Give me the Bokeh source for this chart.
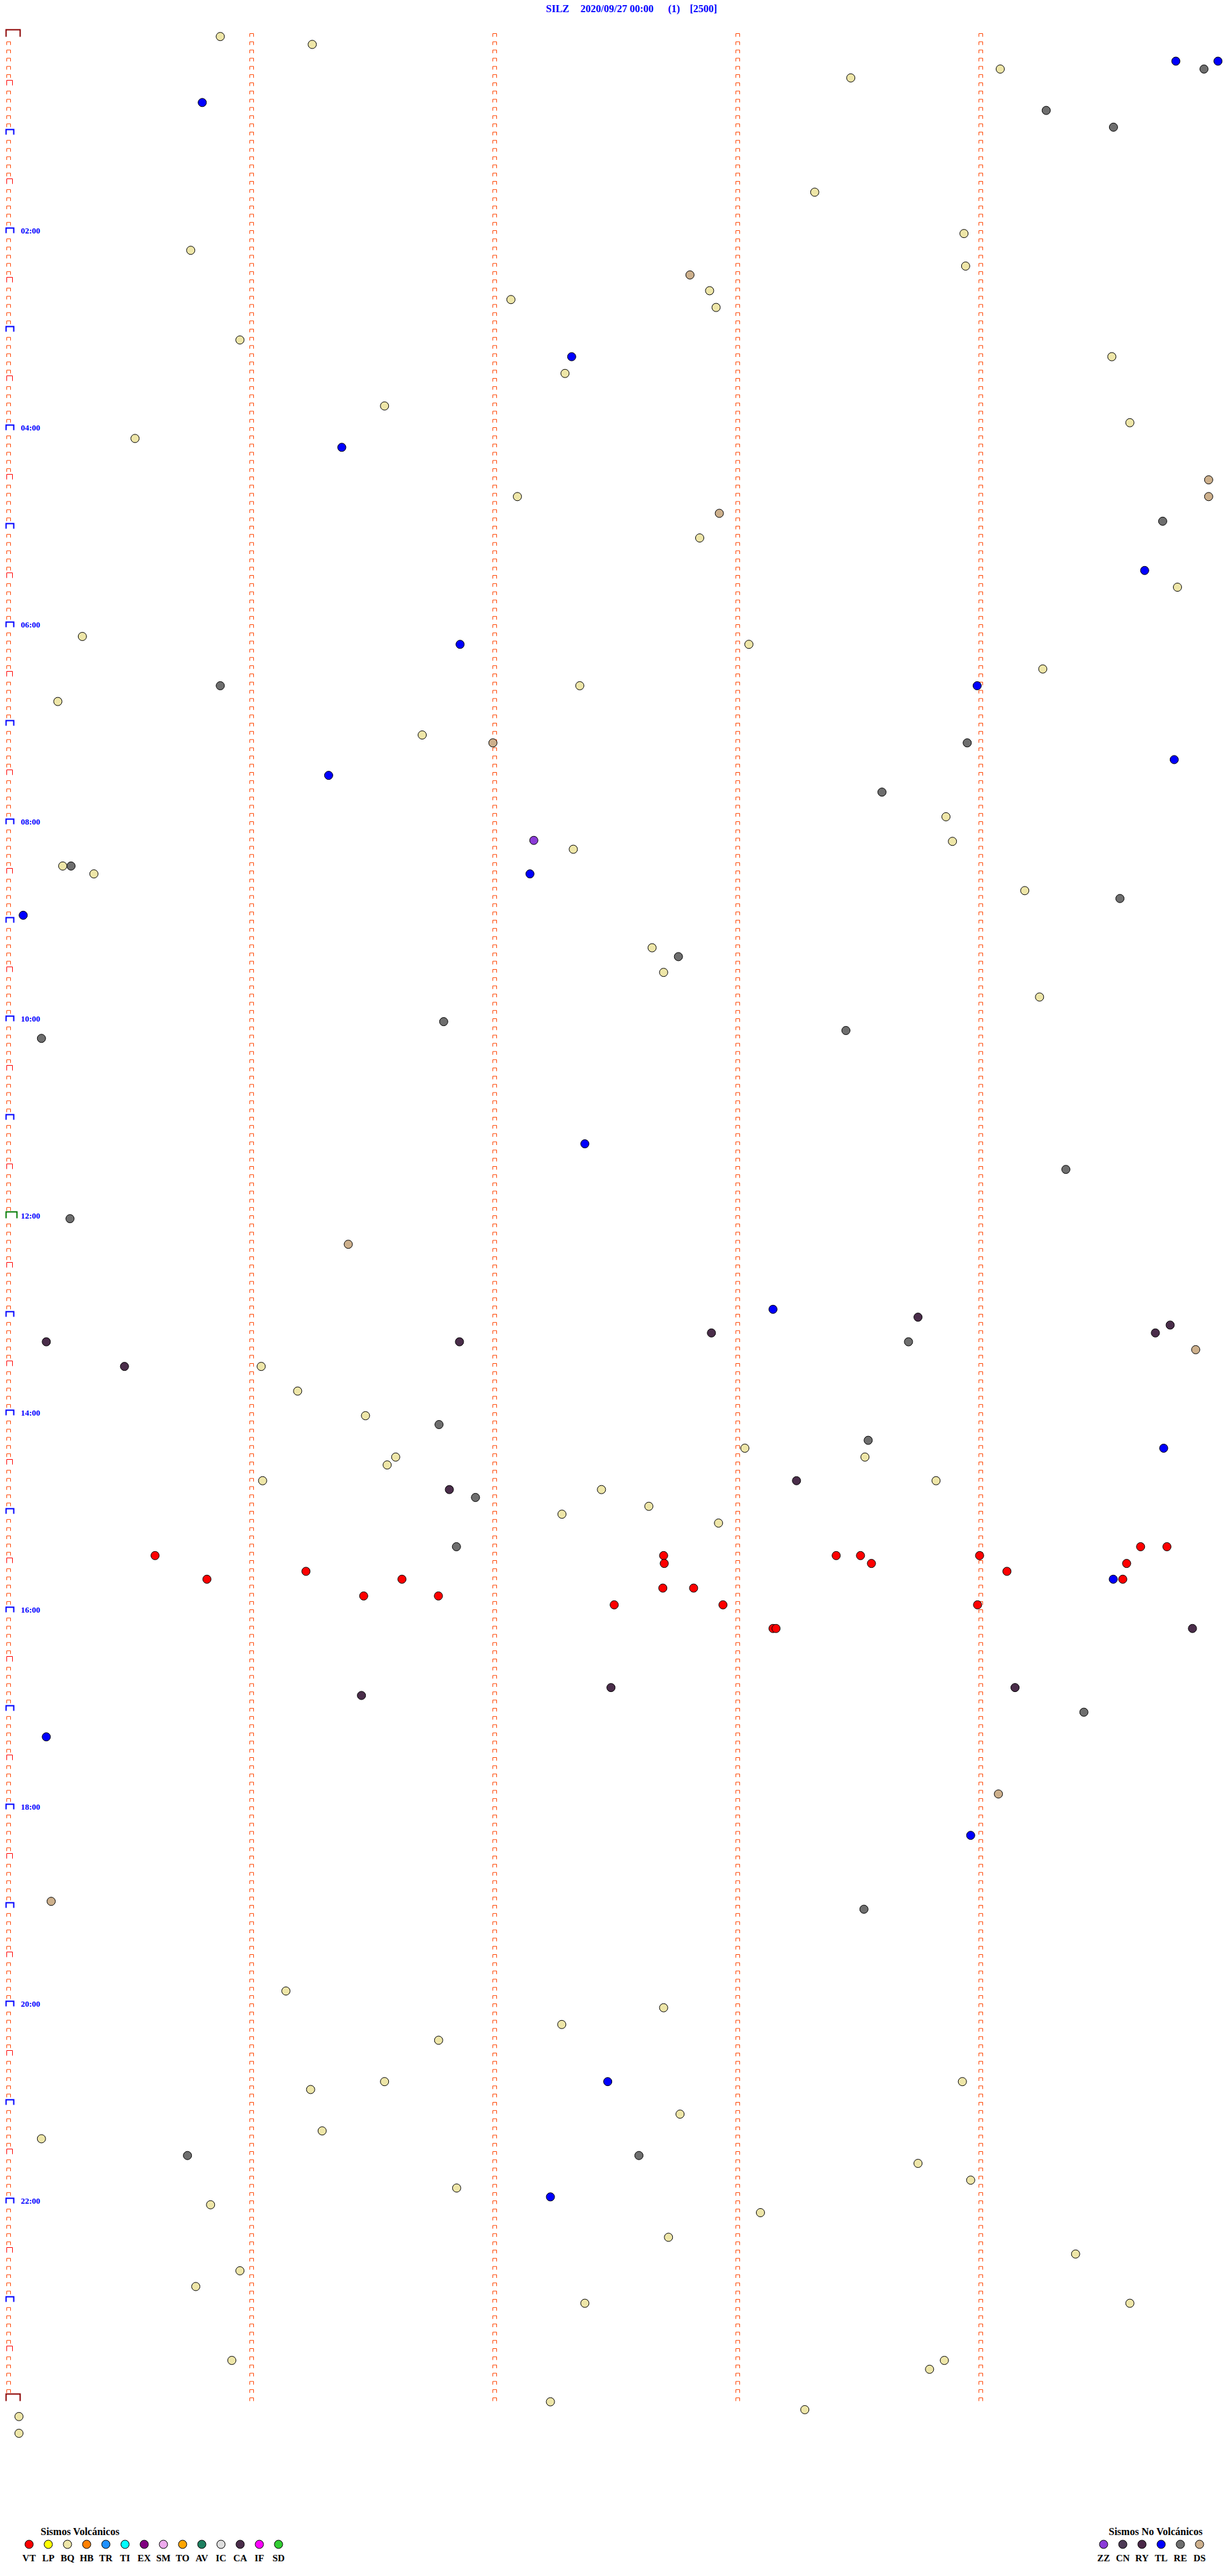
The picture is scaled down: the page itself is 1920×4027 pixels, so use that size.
from bokeh.plotting import figure
from bokeh.models import Range1d, ColumnDataSource
from bokeh.embed import file_html
from bokeh.resources import INLINE
from bokeh.core.properties import value

# ---------------- data ----------------
# minute within the hour (x) and hour of day (y) of each event, with its type
minute = [10.45, 14.99, 41.58, 48.96, 57.63, 59.71, 59.02, 9.56, 51.23, 54.55,
          39.80, 47.17, 8.99, 47.25, 33.64, 34.61, 24.80, 34.93, 11.42, 27.80,
          54.47, 27.47, 18.56, 55.36, 6.24, 16.45, 59.25, 59.25, 25.12, 35.09,
          56.98, 34.12, 56.09, 57.71, 3.64, 22.29, 36.55, 51.06, 10.45, 28.20,
          47.82, 2.43, 20.42, 23.91, 47.33, 57.55, 15.80, 43.12, 46.28, 25.93,
          46.60, 27.88, 2.67, 3.08, 4.21, 25.74, 50.17, 54.87, 0.72, 31.77,
          33.07, 32.34, 50.90, 21.48, 1.62, 41.34, 28.45, 52.20, 3.03, 16.77,
          37.74, 44.90, 1.86, 22.26, 34.70, 44.43, 57.35, 56.62, 58.61, 5.72,
          12.47, 14.27, 17.62, 21.25, 42.44, 36.35, 57.03, 42.28, 19.11, 18.69,
          12.54, 45.79, 38.90, 21.76, 23.05, 29.27, 31.61, 27.32, 35.05, 22.11,
          7.23, 32.34, 32.37, 40.86, 42.06, 42.60, 47.94, 55.89, 57.19, 55.20,
          14.68, 49.29, 9.79, 19.42, 32.30, 33.82, 54.54, 55.01, 17.53, 21.22,
          29.90, 35.27, 47.84, 37.74, 37.89, 58.45, 17.42, 29.74, 49.69, 53.09,
          1.86, 48.87, 47.50, 2.10, 42.23, 13.69, 32.34, 27.31, 21.23, 29.58,
          47.09, 18.56, 14.91, 33.15, 15.48, 1.62, 8.83, 31.12, 44.90, 47.50,
          22.12, 26.75, 9.97, 37.12, 32.58, 52.68, 11.42, 9.24, 55.36, 28.45,
          11.02, 46.20, 45.47, 26.75, 39.31, 0.51, 0.51]
hour = [0.03, 0.11, 0.45, 0.36, 0.28, 0.28, 0.36, 0.70, 0.78, 0.95,
        1.61, 2.03, 2.20, 2.36, 2.45, 2.61, 2.70, 2.78, 3.11, 3.28,
        3.28, 3.45, 3.78, 3.95, 4.11, 4.20, 4.53, 4.70, 4.70, 4.87,
        4.95, 5.12, 5.45, 5.62, 6.12, 6.20, 6.20, 6.45, 6.62, 6.62,
        6.62, 6.78, 7.12, 7.20, 7.20, 7.37, 7.53, 7.70, 7.95, 8.19,
        8.20, 8.28, 8.45, 8.45, 8.53, 8.53, 8.70, 8.78, 8.95, 9.28,
        9.37, 9.53, 9.78, 10.03, 10.20, 10.12, 11.27, 11.53, 12.03, 12.29,
        12.95, 13.03, 13.28, 13.28, 13.19, 13.28, 13.11, 13.19, 13.36, 13.53,
        13.53, 13.78, 14.03, 14.12, 14.28, 14.36, 14.36, 14.45, 14.45, 14.53,
        14.69, 14.69, 14.69, 14.78, 14.86, 14.78, 14.95, 15.03, 15.12, 15.36,
        15.45, 15.45, 15.53, 15.45, 15.45, 15.53, 15.45, 15.36, 15.36, 15.53,
        15.61, 15.61, 15.69, 15.69, 15.78, 15.78, 15.69, 15.69, 15.86, 15.86,
        15.95, 15.95, 15.95, 16.19, 16.19, 16.19, 16.87, 16.79, 16.79, 17.04,
        17.29, 17.87, 18.29, 18.96, 19.04, 19.87, 20.04, 20.21, 20.37, 20.79,
        20.79, 20.79, 20.87, 21.12, 21.29, 21.37, 21.54, 21.54, 21.62, 21.79,
        21.87, 21.96, 22.04, 22.12, 22.37, 22.54, 22.71, 22.87, 23.04, 23.04,
        23.62, 23.62, 23.71, 24.04, 24.12, 24.19, 24.36]
etype = ["BQ", "BQ", "BQ", "BQ", "TL", "TL", "RE", "TL", "RE", "RE",
         "BQ", "BQ", "BQ", "BQ", "DS", "BQ", "BQ", "BQ", "BQ", "TL",
         "BQ", "BQ", "BQ", "BQ", "BQ", "TL", "DS", "DS", "BQ", "DS",
         "RE", "BQ", "TL", "BQ", "BQ", "TL", "BQ", "BQ", "RE", "BQ",
         "TL", "BQ", "BQ", "DS", "RE", "TL", "TL", "RE", "BQ", "ZZ",
         "BQ", "BQ", "BQ", "RE", "BQ", "TL", "BQ", "RE", "TL", "BQ",
         "RE", "BQ", "BQ", "RE", "RE", "RE", "TL", "RE", "RE", "DS",
         "TL", "CA", "CA", "CA", "CA", "RE", "CA", "CA", "DS", "CA",
         "BQ", "BQ", "BQ", "RE", "RE", "BQ", "TL", "BQ", "BQ", "BQ",
         "BQ", "BQ", "CA", "CA", "RE", "BQ", "BQ", "BQ", "BQ", "RE",
         "VT", "VT", "VT", "VT", "VT", "VT", "VT", "VT", "VT", "VT",
         "VT", "VT", "VT", "VT", "VT", "VT", "TL", "VT", "VT", "VT",
         "VT", "VT", "VT", "VT", "VT", "CA", "CA", "CA", "CA", "RE",
         "TL", "DS", "TL", "DS", "RE", "BQ", "BQ", "BQ", "BQ", "TL",
         "BQ", "BQ", "BQ", "BQ", "BQ", "BQ", "RE", "RE", "BQ", "BQ",
         "BQ", "TL", "BQ", "BQ", "BQ", "BQ", "BQ", "BQ", "BQ", "BQ",
         "BQ", "BQ", "BQ", "BQ", "BQ", "BQ", "BQ"]

volc_codes = ["VT", "LP", "BQ", "HB", "TR", "TI", "EX", "SM", "TO", "AV", "IC", "CA", "IF", "SD"]
volc_colors = ["#FF0000", "#FFFF00", "#EEE6A8", "#FF8000", "#1E90FF", "#00FFFF", "#800080",
               "#EEAAEE", "#FFA500", "#1E8060", "#DDDDDD", "#4A2D4A", "#FF00FF", "#32CD32"]
novolc_codes = ["ZZ", "CN", "RY", "TL", "RE", "DS"]
novolc_colors = ["#8B3BD8", "#4D3A55", "#4A2848", "#0000FF", "#6E6E6E", "#CDB08C"]

title_parts = ["SILZ", "2020/09/27 00:00", "(1)", "[2500]"]
hour_labels = ["02:00", "04:00", "06:00", "08:00", "10:00", "12:00",
               "14:00", "16:00", "18:00", "20:00", "22:00"]
hour_label_values = [2, 4, 6, 8, 10, 12, 14, 16, 18, 20, 22]
column_minutes = [0, 12, 24, 36, 48]

# ---------------- layout ----------------
W, H = 1912, 4019
PX_PER_MIN = 380.0 / 12.0
PX_PER_HOUR = 154.0
X0_PX = 13.0   # frame x of minute 0
Y0_PX = 52.0   # frame y of hour 0

x_start = -X0_PX / PX_PER_MIN
x_end = x_start + W / PX_PER_MIN
y_top = -Y0_PX / PX_PER_HOUR
y_bot = y_top + H / PX_PER_HOUR


def dx(px):
    return px / PX_PER_MIN


def dy(px):
    return px / PX_PER_HOUR


def fx(X):  # page pixel -> data x
    return x_start + X / PX_PER_MIN


def fy(Y):  # page pixel -> data y
    return y_top + Y / PX_PER_HOUR


p = figure(width=W, height=H, x_range=Range1d(x_start, x_end),
           y_range=Range1d(y_bot, y_top), output_backend="svg",
           toolbar_location=None, min_border=0,
           x_axis_location=None, y_axis_location=None)
p.outline_line_color = None
p.grid.visible = False
p.background_fill_color = "white"
p.border_fill_color = "white"

# ---------------- time marks (⊓ brackets) ----------------
styles = {
    "small": dict(color="#FF4500", width=1, l=-3, r=3, t=0, b=5),
    "half": dict(color="#FF0000", width=1, l=-3, r=6, t=-4, b=4),
    "hour": dict(color="#0000FF", width=2, l=-4, r=8, t=-4, b=4),
    "noon": dict(color="#007A00", width=2, l=-4, r=13, t=-6, b=4),
    "day": dict(color="#8B0000", width=2, l=-4, r=18, t=-6, b=5),
}
marks = {k: ([], []) for k in styles}
for ci, cm in enumerate(column_minutes):
    for k in range(0, 24 * 12 + 1):
        t = k / 12.0
        kind = "small"
        if ci == 0:
            if k == 0 or k == 288:
                kind = "day"
            elif k == 144:
                kind = "noon"
            elif k % 12 == 0:
                kind = "hour"
            elif k % 6 == 0:
                kind = "half"
        s = styles[kind]
        xl, xr = cm + dx(s["l"]), cm + dx(s["r"])
        yt, yb = t + dy(s["t"]), t + dy(s["b"])
        marks[kind][0].append([xl, xl, xr, xr])
        marks[kind][1].append([yb, yt, yt, yb])
for kind, (xs, ys) in marks.items():
    s = styles[kind]
    p.multi_line(xs, ys, line_color=s["color"], line_width=s["width"],
                 line_join="miter", line_cap="butt")

# ---------------- hour labels ----------------
p.text(x=[fx(32)] * len(hour_labels), y=hour_label_values, text=hour_labels,
       text_font=value("Liberation Serif"), text_font_style="bold",
       text_font_size="13px", text_color="#0000FF",
       text_align="left", text_baseline="middle")

# ---------------- events ----------------
all_codes = volc_codes + novolc_codes
all_colors = volc_colors + novolc_colors
cmap = dict(zip(all_codes, all_colors))
src = ColumnDataSource(dict(x=minute, y=hour, c=[cmap[t] for t in etype]))
p.scatter(x="x", y="y", size=13, fill_color="c", line_color="black",
          line_width=1, source=src)

# ---------------- title ----------------
title_x = [853, 907, 1044, 1078]
p.text(x=[fx(v) for v in title_x], y=[fy(13)] * 4, text=title_parts,
       text_font=value("Liberation Serif"), text_font_style="bold",
       text_font_size="16px", text_color="#0000FF",
       text_align="left", text_baseline="middle")

# ---------------- legends ----------------
lx = [fx(45 + 30 * i) for i in range(len(volc_codes))]
p.scatter(x=lx, y=[fy(3977)] * len(lx), size=13, fill_color=volc_colors,
          line_color="black", line_width=1)
p.text(x=lx, y=[fy(3998)] * len(lx), text=volc_codes,
       text_font=value("Liberation Serif"), text_font_style="bold",
       text_font_size="15px", text_color="black",
       text_align="center", text_baseline="middle")
p.text(x=[fx(63)], y=[fy(3957)], text=["Sismos Volcánicos"],
       text_font=value("Liberation Serif"), text_font_style="bold",
       text_font_size="16px", text_color="black",
       text_align="left", text_baseline="middle")

rx = [fx(1725 + 30 * i) for i in range(len(novolc_codes))]
p.scatter(x=rx, y=[fy(3977)] * len(rx), size=13, fill_color=novolc_colors,
          line_color="black", line_width=1)
p.text(x=rx, y=[fy(3998)] * len(rx), text=novolc_codes,
       text_font=value("Liberation Serif"), text_font_style="bold",
       text_font_size="15px", text_color="black",
       text_align="center", text_baseline="middle")
p.text(x=[fx(1733)], y=[fy(3957)], text=["Sismos No Volcánicos"],
       text_font=value("Liberation Serif"), text_font_style="bold",
       text_font_size="16px", text_color="black",
       text_align="left", text_baseline="middle")

open("out.html", "w").write(file_html(p, INLINE))
